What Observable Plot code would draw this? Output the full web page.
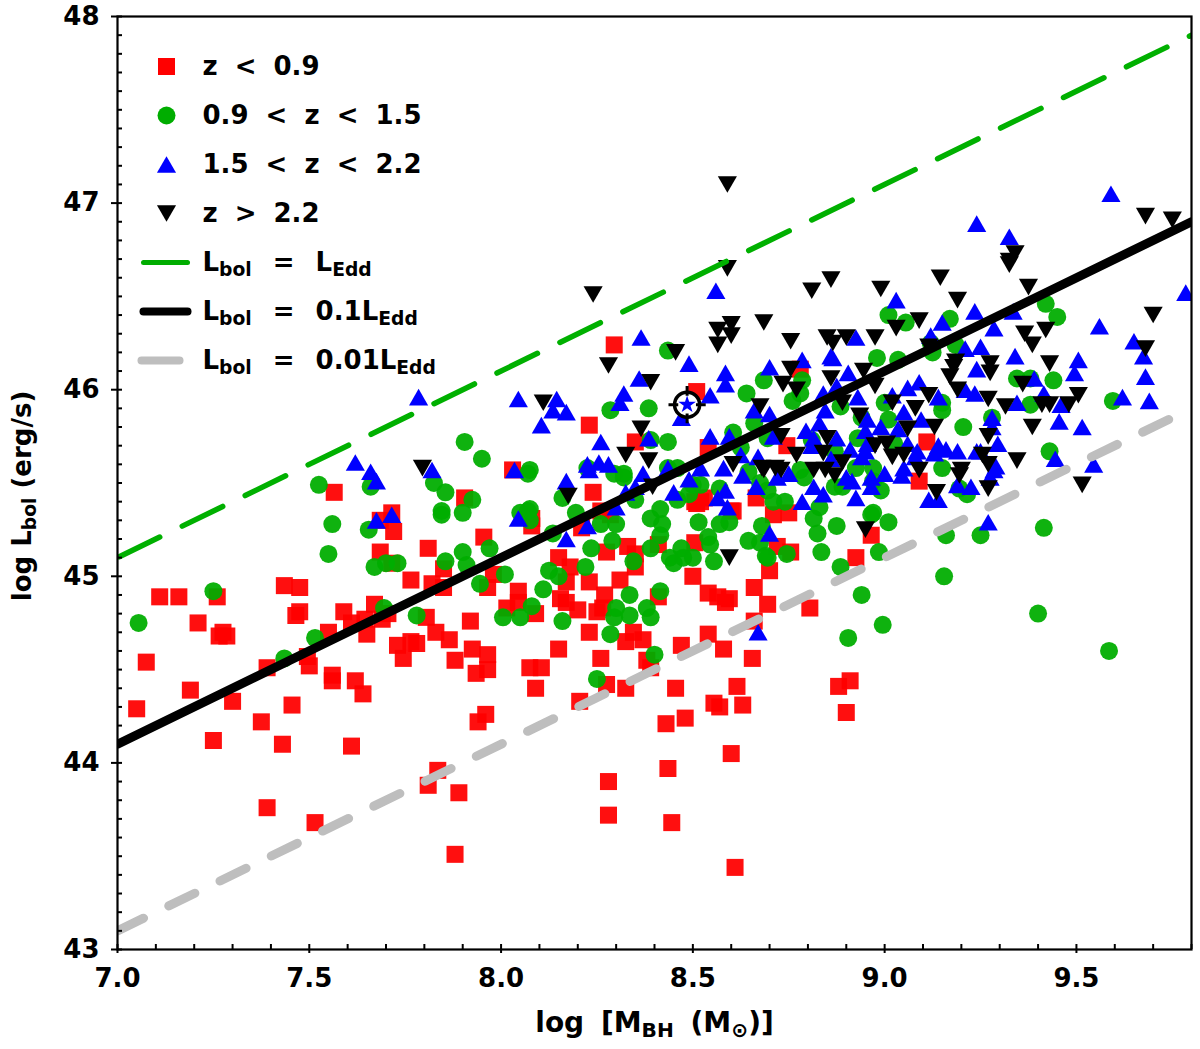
<!DOCTYPE html>
<html>
<head>
<meta charset="utf-8">
<script src="https://cdn.jsdelivr.net/npm/d3@7"></script>
<script src="https://cdn.jsdelivr.net/npm/@observablehq/plot@0.6"></script>
<style>body{margin:0;background:#fff}svg{display:block}</style>
</head>
<body>
<div id="chart"></div>
<script>
const lowZ = [[7.05,44.29],[7.075,44.54],[7.11,44.89],[7.16,44.89],[7.19,44.39],[7.21,44.75],[7.25,44.12],[7.26,44.89],[7.265,44.68],[7.275,44.70],[7.285,44.68],[7.30,44.33],[7.375,44.22],[7.39,44.51],[7.39,43.76],[7.43,44.10],[7.435,44.95],[7.455,44.31],[7.465,44.79],[7.475,44.81],[7.475,44.94],[7.495,44.57],[7.50,44.52],[7.515,43.68],[7.55,44.70],[7.56,44.47],[7.56,44.44],[7.565,45.45],[7.59,44.81],[7.61,44.75],[7.61,44.09],[7.62,44.44],[7.64,44.37],[7.645,44.77],[7.65,44.69],[7.67,44.85],[7.685,45.30],[7.685,45.13],[7.69,44.77],[7.705,44.80],[7.715,45.34],[7.715,45.07],[7.72,45.24],[7.73,44.63],[7.745,44.56],[7.765,44.65],[7.765,44.98],[7.78,44.64],[7.805,44.78],[7.81,45.15],[7.81,43.88],[7.82,44.96],[7.83,44.70],[7.835,43.96],[7.85,45.04],[7.85,44.94],[7.865,44.66],[7.88,44.55],[7.88,43.51],[7.89,43.84],[7.905,45.42],[7.92,44.76],[7.925,44.61],[7.935,44.48],[7.94,44.22],[7.955,45.21],[7.96,44.26],[7.965,44.94],[7.965,44.58],[7.965,44.50],[7.98,45.01],[8.015,44.83],[8.03,45.57],[8.045,44.92],[8.045,44.86],[8.075,44.51],[8.08,45.31],[8.08,45.27],[8.09,44.80],[8.09,44.40],[8.105,44.51],[8.15,45.10],[8.15,44.61],[8.155,44.88],[8.17,44.97],[8.17,44.86],[8.18,45.05],[8.20,44.82],[8.205,44.33],[8.21,45.26],[8.23,45.81],[8.23,44.97],[8.23,44.70],[8.24,45.45],[8.25,44.81],[8.26,45.35],[8.26,44.56],[8.265,44.83],[8.27,44.90],[8.275,45.13],[8.275,44.42],[8.28,43.90],[8.28,43.72],[8.285,45.33],[8.295,46.24],[8.31,44.98],[8.325,44.65],[8.325,44.40],[8.33,45.16],[8.345,44.70],[8.35,45.72],[8.35,45.12],[8.35,45.05],[8.37,44.66],[8.38,44.55],[8.39,44.51],[8.41,45.17],[8.41,44.89],[8.43,44.21],[8.435,43.97],[8.445,43.68],[8.455,44.40],[8.47,44.63],[8.48,44.24],[8.50,45.00],[8.505,45.40],[8.505,45.18],[8.51,45.99],[8.51,45.39],[8.52,45.40],[8.53,45.42],[8.54,45.69],[8.54,44.91],[8.54,44.69],[8.555,44.32],[8.565,44.89],[8.57,44.30],[8.58,44.61],[8.585,44.86],[8.595,44.88],[8.60,45.35],[8.60,44.05],[8.605,45.35],[8.61,43.44],[8.615,44.41],[8.63,44.31],[8.655,44.56],[8.66,44.94],[8.66,44.76],[8.665,45.42],[8.695,44.85],[8.70,45.03],[8.71,45.33],[8.72,45.16],[8.745,45.70],[8.75,45.34],[8.755,45.13],[8.78,46.11],[8.805,44.83],[8.88,44.41],[8.90,44.27],[8.91,44.44],[8.925,45.10],[8.965,45.22],[9.09,45.51],[9.11,45.72]];

const midZ = [[7.055,44.75],[7.25,44.92],[7.435,44.56],[7.515,44.67],[7.525,45.49],[7.55,45.12],[7.56,45.28],[7.655,45.25],[7.66,45.48],[7.67,45.05],[7.695,44.83],[7.70,45.07],[7.73,45.07],[7.78,44.79],[7.825,45.50],[7.845,45.35],[7.845,45.33],[7.855,45.45],[7.855,45.08],[7.90,45.34],[7.90,45.13],[7.905,45.72],[7.91,45.06],[7.925,45.41],[7.945,44.96],[7.95,45.63],[7.97,45.15],[8.005,44.78],[8.01,45.01],[8.05,45.34],[8.05,44.78],[8.07,45.55],[8.07,45.35],[8.075,45.57],[8.075,45.36],[8.075,45.30],[8.08,44.84],[8.11,44.93],[8.125,45.03],[8.135,45.23],[8.15,45.00],[8.16,45.42],[8.16,44.76],[8.195,45.34],[8.22,45.05],[8.225,45.58],[8.235,45.15],[8.25,44.45],[8.26,45.28],[8.285,45.89],[8.285,44.69],[8.29,45.19],[8.295,45.55],[8.295,44.78],[8.30,45.28],[8.30,44.83],[8.32,45.55],[8.32,45.53],[8.335,44.90],[8.335,44.79],[8.345,45.08],[8.35,45.41],[8.38,44.83],[8.385,45.90],[8.39,45.73],[8.39,45.31],[8.39,45.15],[8.39,44.78],[8.40,44.58],[8.415,45.36],[8.415,45.22],[8.415,44.92],[8.42,45.28],[8.435,46.21],[8.435,45.72],[8.435,45.58],[8.44,45.10],[8.45,45.07],[8.46,45.58],[8.46,45.41],[8.47,45.15],[8.475,45.10],[8.49,45.44],[8.50,45.49],[8.50,45.10],[8.515,45.29],[8.52,45.49],[8.54,45.21],[8.545,45.17],[8.555,45.08],[8.57,45.47],[8.57,45.28],[8.595,45.29],[8.605,45.77],[8.625,45.69],[8.64,45.98],[8.645,45.56],[8.645,45.19],[8.66,45.82],[8.675,45.50],[8.675,45.18],[8.68,45.27],[8.685,46.05],[8.69,45.11],[8.695,45.74],[8.695,45.46],[8.695,45.10],[8.71,45.40],[8.74,45.40],[8.745,45.12],[8.76,45.94],[8.78,45.98],[8.78,45.57],[8.785,46.05],[8.79,45.53],[8.81,45.73],[8.815,45.31],[8.825,45.23],[8.83,45.37],[8.835,45.13],[8.87,45.67],[8.87,45.48],[8.875,45.27],[8.885,45.91],[8.885,45.05],[8.89,45.48],[8.905,44.67],[8.925,45.58],[8.93,45.74],[8.94,45.85],[8.94,44.90],[8.965,45.33],[8.97,45.58],[8.97,45.51],[8.97,45.34],[8.98,46.17],[8.985,45.13],[8.99,45.46],[8.995,44.74],[9.0,45.93],[9.01,46.40],[9.01,45.84],[9.01,45.29],[9.025,45.71],[9.035,46.16],[9.055,46.36],[9.125,46.20],[9.12,46.25],[9.15,45.93],[9.15,45.89],[9.15,45.58],[9.155,45.00],[9.16,45.22],[9.17,46.38],[9.185,46.24],[9.195,45.47],[9.205,45.80],[9.215,45.44],[9.25,45.22],[9.28,45.85],[9.345,46.06],[9.38,46.06],[9.38,45.92],[9.40,44.80],[9.415,45.26],[9.42,46.46],[9.43,45.67],[9.44,46.05],[9.45,46.39],[9.585,44.60],[9.595,45.94]];

const highZ = [[7.62,45.61],[7.66,45.56],[7.675,45.51],[7.675,45.30],[7.715,45.33],[7.785,45.96],[7.82,45.57],[8.035,45.57],[8.045,45.95],[8.045,45.31],[8.105,45.81],[8.135,45.89],[8.145,45.95],[8.17,45.88],[8.17,45.51],[8.17,45.20],[8.225,45.60],[8.225,45.27],[8.23,45.57],[8.255,45.61],[8.26,45.72],[8.28,45.60],[8.30,45.37],[8.31,45.93],[8.32,45.98],[8.325,45.45],[8.35,45.48],[8.36,46.06],[8.365,46.28],[8.37,45.55],[8.385,45.74],[8.435,45.58],[8.45,45.45],[8.47,45.85],[8.49,46.14],[8.49,45.52],[8.52,45.58],[8.545,45.97],[8.545,45.75],[8.56,46.53],[8.565,45.42],[8.58,45.58],[8.585,46.09],[8.585,46.03],[8.585,45.46],[8.59,45.37],[8.595,45.75],[8.625,45.65],[8.63,45.54],[8.66,45.89],[8.665,45.48],[8.67,45.64],[8.67,44.70],[8.70,46.12],[8.70,45.87],[8.70,45.23],[8.71,45.75],[8.72,45.53],[8.75,45.55],[8.785,46.16],[8.785,45.40],[8.795,45.78],[8.81,45.70],[8.815,45.74],[8.815,45.48],[8.83,45.82],[8.84,45.98],[8.84,45.44],[8.845,45.89],[8.86,46.18],[8.86,45.63],[8.865,46.17],[8.875,46.02],[8.875,45.74],[8.90,45.53],[8.905,46.09],[8.91,45.68],[8.915,45.51],[8.925,46.28],[8.925,45.42],[8.93,45.96],[8.94,45.64],[8.95,45.78],[8.95,45.67],[8.955,45.84],[8.955,45.71],[8.965,45.53],[8.965,45.48],[8.99,45.80],[9.0,45.55],[9.02,45.97],[9.03,46.48],[9.035,45.79],[9.045,45.54],[9.05,45.88],[9.05,45.58],[9.06,46.01],[9.06,45.71],[9.08,45.64],[9.085,45.67],[9.09,46.04],[9.095,45.84],[9.115,45.41],[9.12,46.29],[9.13,45.66],[9.14,45.96],[9.14,45.70],[9.14,45.41],[9.15,46.36],[9.16,45.68],[9.19,45.67],[9.19,45.49],[9.21,46.22],[9.21,46.00],[9.225,45.48],[9.235,46.42],[9.235,45.98],[9.24,46.89],[9.24,46.11],[9.24,45.67],[9.25,46.23],[9.25,45.67],[9.27,45.29],[9.275,45.53],[9.28,45.85],[9.28,45.80],[9.285,46.33],[9.285,45.57],[9.29,45.59],[9.295,45.71],[9.325,46.82],[9.335,46.42],[9.34,46.18],[9.345,45.93],[9.39,46.06],[9.415,45.98],[9.445,45.63],[9.455,45.83],[9.46,45.92],[9.495,46.09],[9.505,46.16],[9.515,45.80],[9.545,45.60],[9.56,46.34],[9.59,47.05],[9.62,45.96],[9.65,46.26],[9.675,46.18],[9.68,46.07],[9.69,45.94],[9.785,46.52]];

const topZ = [[7.795,45.58],[8.11,45.93],[8.175,45.43],[8.24,46.51],[8.28,46.13],[8.325,45.65],[8.365,45.79],[8.385,45.62],[8.39,46.04],[8.395,45.48],[8.455,46.20],[8.565,46.32],[8.565,46.24],[8.59,47.10],[8.59,46.65],[8.595,45.10],[8.60,46.35],[8.60,46.29],[8.605,45.60],[8.675,45.91],[8.68,45.58],[8.685,46.36],[8.685,45.57],[8.715,45.58],[8.73,45.75],[8.73,45.57],[8.735,46.03],[8.755,46.26],[8.755,46.11],[8.77,46.00],[8.77,45.65],[8.81,46.53],[8.815,45.57],[8.84,45.66],[8.845,45.57],[8.85,46.28],[8.85,45.74],[8.86,46.59],[8.86,46.06],[8.865,46.25],[8.87,45.54],[8.89,45.93],[8.89,45.61],[8.90,46.28],[8.935,45.86],[8.945,46.10],[8.95,45.25],[8.975,46.28],[8.975,46.02],[8.975,45.70],[8.99,46.54],[9.005,45.71],[9.02,45.93],[9.02,45.64],[9.03,46.33],[9.05,45.65],[9.06,45.79],[9.08,45.90],[9.09,46.37],[9.09,45.57],[9.115,46.23],[9.115,45.97],[9.13,45.80],[9.135,45.45],[9.145,46.60],[9.17,46.07],[9.18,46.12],[9.185,46.15],[9.19,46.48],[9.19,46.00],[9.195,45.54],[9.20,45.57],[9.255,45.65],[9.27,45.95],[9.27,45.75],[9.27,45.60],[9.27,45.47],[9.275,46.14],[9.275,46.09],[9.315,45.91],[9.325,46.69],[9.325,46.67],[9.34,46.73],[9.345,45.62],[9.36,46.03],[9.365,46.30],[9.375,46.55],[9.385,46.24],[9.385,45.80],[9.41,45.92],[9.42,46.32],[9.43,46.14],[9.43,45.92],[9.48,45.92],[9.505,45.97],[9.515,45.49],[9.68,46.93],[9.68,46.22],[9.70,46.40],[9.75,46.91]];

const highlighted = [[8.485,45.92]];
const massRange = [7, 9.8];
const eddingtonOffsets = {edd: 38.1, tenth: 37.1, hundredth: 36.1};
const xLabels = [7, 7.5, 8, 8.5, 9, 9.5];
const yLabels = [43, 44, 45, 46, 47, 48];
const legendPoints = ["z < 0.9", "0.9 < z < 1.5", "1.5 < z < 2.2", "z > 2.2"];
const legendLines = ["L_{bol} = L_{Edd}", "L_{bol} = 0.1L_{Edd}", "L_{bol} = 0.01L_{Edd}"];

const RED = "#ff0000", GREEN = "#00ad00", BLUE = "#0000ff", BLACK = "#000000", GREY = "#bebebe";

const triUp = {draw(c, size) {const s = Math.sqrt(size); c.moveTo(0, -0.66*s); c.lineTo(0.76*s, 0.66*s); c.lineTo(-0.76*s, 0.66*s); c.closePath();}};
const triDown = {draw(c, size) {const s = Math.sqrt(size); c.moveTo(0, 0.66*s); c.lineTo(0.76*s, -0.66*s); c.lineTo(-0.76*s, -0.66*s); c.closePath();}};
const crossTicks = {draw(c, size) {const s = Math.sqrt(size);
  for (const [a, b] of [[1,0],[-1,0],[0,1],[0,-1]]) {c.moveTo(a*0.5*s, b*0.5*s); c.lineTo(a*1.05*s, b*1.05*s);}
}};
const hbar = w => ({draw(c) {c.moveTo(-w/2, 0); c.lineTo(w/2, 0);}});

const lineOf = off => massRange.map(m => [m, m + off]);
const LEG_Y = i => 50 + 49 * i;
const styles = [
  {symbol: "square", fill: RED, r: 9.6, fillOpacity: 0.94},
  {symbol: "circle", fill: GREEN, r: 9, fillOpacity: 0.94},
  {symbol: triUp, fill: BLUE, r: 7.1},
  {symbol: triDown, fill: BLACK, r: 7.1}
];
const series = [lowZ, midZ, highZ, topZ];
const FF = "DejaVu Sans";

const plot = Plot.plot({
  width: 1200, height: 1049,
  marginLeft: 117, marginRight: 9, marginTop: 16, marginBottom: 100,
  style: {fontFamily: FF, fontWeight: "bold", background: "#fff", color: "#000"},
  x: {domain: massRange, label: null},
  y: {domain: [43, 48], label: null},
  marks: [
    ...series.map((d, i) => Plot.dot(d, {x: "0", y: "1", ...styles[i], clip: "frame"})),
    Plot.dot(highlighted, {x: "0", y: "1", r: 12.5, fill: "#fff", stroke: BLACK, strokeWidth: 3.5}),
    Plot.dot(highlighted, {x: "0", y: "1", r: 10, symbol: crossTicks, stroke: BLACK, strokeWidth: 3, fill: "none"}),
    Plot.dot(highlighted, {x: "0", y: "1", r: 5.5, symbol: "star", fill: BLUE}),
    Plot.line(lineOf(eddingtonOffsets.hundredth), {x: "0", y: "1", stroke: GREY, strokeWidth: 9, strokeDasharray: "29,28", strokeLinecap: "round", clip: "frame"}),
    Plot.line(lineOf(eddingtonOffsets.edd), {x: "0", y: "1", stroke: "#00b000", strokeWidth: 5.5, strokeDasharray: "45,25", strokeDashoffset: -2, strokeLinecap: "round", clip: "frame"}),
    Plot.line(lineOf(eddingtonOffsets.tenth), {x: "0", y: "1", stroke: BLACK, strokeWidth: 9, clip: "frame"}),
    Plot.frame({stroke: BLACK, strokeWidth: 2.2}),
    Plot.axisX(d3.range(7, 9.801, 0.1).map(v => +v.toFixed(1)), {tickSize: -5, fill: "none", label: null, stroke: BLACK, strokeWidth: 2}),
    Plot.axisX(xLabels, {tickSize: 4, tickPadding: 15, tickFormat: d3.format(".1f"), fontSize: 26, label: null, stroke: BLACK, strokeWidth: 2, fill: BLACK}),
    Plot.axisY(d3.range(43, 48.01, 0.1).map(v => +v.toFixed(1)), {tickSize: -5, fill: "none", label: null, stroke: BLACK, strokeWidth: 2}),
    Plot.axisY(yLabels, {tickSize: 6, tickPadding: 12, tickFormat: d3.format("d"), fontSize: 26, label: null, stroke: BLACK, strokeWidth: 2, fill: BLACK}),
    Plot.text(["log L_{bol} (erg/s)"], {frameAnchor: "left", textAnchor: "middle", dx: -95, dy: 13, rotate: -90, fontSize: 26, fill: BLACK}),
    Plot.text(["log [M_{BH} (M_{⊙})]"], {frameAnchor: "bottom", dy: 82, fontSize: 28, fill: BLACK}),
    ...legendPoints.map((t, i) => Plot.dot([t], {frameAnchor: "top-left", dx: 49, dy: LEG_Y(i), ...styles[i], fillOpacity: 1})),
    ...legendPoints.map((t, i) => Plot.text([t], {frameAnchor: "top-left", dx: 85, dy: LEG_Y(i), lineAnchor: "middle", textAnchor: "start", fontSize: 26, fill: BLACK})),
    ...[[GREEN, 5, 44, 48], [BLACK, 8, 44, 48], [GREY, 8, 38, 43]].map(([c, sw, w, x], i) =>
      Plot.dot([legendLines[i]], {frameAnchor: "top-left", dx: x, dy: LEG_Y(i + 4), symbol: hbar(w), stroke: c, strokeWidth: sw, strokeLinecap: "round", fill: "none"})),
    ...legendLines.map((t, i) => Plot.text([t], {frameAnchor: "top-left", dx: 85, dy: LEG_Y(i + 4), lineAnchor: "middle", textAnchor: "start", fontSize: 26, fill: BLACK}))
  ]
});

// Turn _{...} into real subscripts and widen legend spacing
plot.querySelectorAll("text").forEach(el => {
  const s = el.textContent;
  if (legendPoints.includes(s)) el.style.wordSpacing = "8px";
  if (legendLines.includes(s)) el.style.wordSpacing = "12px";
  if (s.startsWith("log [")) el.style.wordSpacing = "7px";
  if (!s.includes("_{")) return;
  el.textContent = "";
  const NS = "http://www.w3.org/2000/svg";
  s.split(/_\{|\}/).forEach((part, i) => {
    if (!part) return;
    const t = document.createElementNS(NS, "tspan");
    t.textContent = part;
    if (i % 2 === 1) {
      t.setAttribute("font-size", "72%");
      t.setAttribute("dy", "0.25em");
    } else if (i > 0) {
      t.setAttribute("dy", "-0.18em");
    }
    el.appendChild(t);
  });
});
document.getElementById("chart").appendChild(plot);
</script>
</body>
</html>
